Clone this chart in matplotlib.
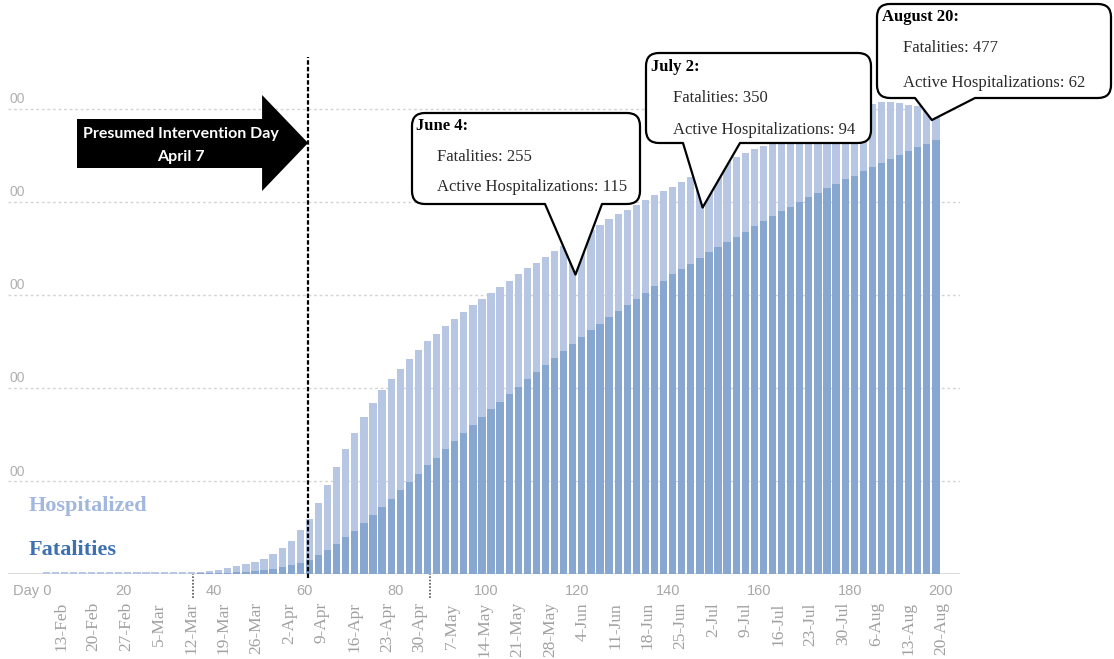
import numpy as np
import matplotlib.pyplot as plt
from matplotlib.path import Path
from matplotlib.patches import PathPatch, Polygon
from matplotlib import transforms

plt.rcParams['font.family'] = ['Liberation Sans', 'DejaVu Sans']

# --- Data: one bar every 2 days (day 1, 3, ..., 199) ---
fatalities = [
    0, 0, 0, 0, 0, 0, 0, 0, 0, 0,
    0, 0, 0, 0.2, 0.4, 0.6, 0.8, 0.9, 1.1, 1.2,
    1.5, 1.9, 2.2, 2.9, 4.0, 5.1, 6.2, 7.6, 9.7, 12.2,
    15.8, 20.5, 26.3, 32.6, 39.8, 47.0, 55.2, 63.8, 72.1, 81.4,
    90.7, 99.0, 108.3, 117.3, 125.5, 134.7, 143.3, 152.2, 160.5, 169.1,
    177.3, 185.5, 193.8, 201.3, 209.5, 217.0, 224.9, 232.4, 240.0, 247.5,
    254.6, 262.2, 269.0, 276.1, 282.6, 289.7, 296.2, 302.6, 309.4, 315.5,
    322.3, 327.5, 333.9, 339.3, 345.8, 351.1, 356.5, 362.2, 368.0, 373.7,
    379.1, 384.5, 389.8, 394.5, 400.2, 405.7, 409.7, 414.7, 419.3, 424.7,
    428.3, 433.3, 437.6, 442.3, 446.2, 450.5, 454.4, 459.1, 462.7, 466.6,
]
hospitalized = [
    0, 2.2, 2.2, 2.2, 2.2, 2.2, 2.2, 2.2, 2.2, 2.2,
    2.2, 2.2, 2.2, 2.1, 2.0, 1.8, 1.6, 1.6, 1.9, 2.8,
    3.6, 5.0, 6.5, 7.9, 9.3, 11.8, 16.1, 21.1, 26.2, 35.1,
    44.1, 56.2, 69.7, 82.8, 94.9, 105.2, 113.9, 119.9, 125.6, 128.5,
    129.9, 132.7, 132.7, 133.0, 133.1, 132.1, 130.7, 129.3, 128.5, 127.1,
    125.4, 123.6, 121.7, 121.0, 119.3, 117.8, 116.4, 114.7, 112.5, 111.0,
    109.4, 107.7, 106.3, 105.3, 104.2, 101.4, 100.9, 99.5, 97.8, 96.0,
    93.8, 94.1, 92.6, 91.7, 89.2, 87.9, 87.0, 86.5, 84.3, 82.9,
    81.4, 80.0, 78.7, 78.0, 76.3, 74.8, 74.8, 73.8, 73.2, 71.3,
    70.7, 68.7, 67.4, 65.4, 61.0, 56.0, 50.0, 44.0, 38.0, 31.2,
]
days = np.arange(len(fatalities)) * 2 + 1

day_ticks = [0, 20, 40, 60, 80, 100, 120, 140, 160, 180, 200]
day_tick_labels = ['Day 0', '20', '40', '60', '80', '100', '120', '140', '160', '180', '200']
date_labels = ['13-Feb', '20-Feb', '27-Feb', '5-Mar', '12-Mar', '19-Mar', '26-Mar',
               '2-Apr', '9-Apr', '16-Apr', '23-Apr', '30-Apr', '7-May', '14-May',
               '21-May', '28-May', '4-Jun', '11-Jun', '18-Jun', '25-Jun', '2-Jul',
               '9-Jul', '16-Jul', '23-Jul', '30-Jul', '6-Aug', '13-Aug', '20-Aug']
grid_values = [100, 200, 300, 400, 500]
grid_labels = ['00', '00', '00', '00', '00']

intervention_day = 60.7
marker_days = [35.3, 87.6]

callout_titles = ['June 4:', 'July 2:', 'August 20:']
callout_fatalities = [255, 350, 477]
callout_hospital = [115, 94, 62]
callout_tip_day = [119.6, 147.6, 198.1]
callout_tip_value = [322, 394, 488]

# --- Style ---
W, H = 1114, 659
COR_CLARA = '#b7c7e3'
COR_ESCURA = '#87a7d0'
SERIF = 'Liberation Serif'


def fx(x):
    return x / W


def fy(y):
    return 1 - y / H


def rounded_callout(x0, y0, x1, y1, r, b0, b1, tip):
    """Rounded box (pixel coords, y down) with a pointer on the bottom edge."""
    verts = [(x0 + r, y0), (x1 - r, y0), (x1, y0), (x1, y0 + r),
             (x1, y1 - r), (x1, y1), (x1 - r, y1),
             (b1, y1), tip, (b0, y1),
             (x0 + r, y1), (x0, y1), (x0, y1 - r),
             (x0, y0 + r), (x0, y0), (x0 + r, y0), (x0 + r, y0)]
    codes = [Path.MOVETO, Path.LINETO, Path.CURVE3, Path.CURVE3,
             Path.LINETO, Path.CURVE3, Path.CURVE3,
             Path.LINETO, Path.LINETO, Path.LINETO,
             Path.LINETO, Path.CURVE3, Path.CURVE3,
             Path.LINETO, Path.CURVE3, Path.CURVE3, Path.CLOSEPOLY]
    verts = [(fx(x), fy(y)) for x, y in verts]
    return Path(verts, codes)


# --- Figure and axes ---
fig = plt.figure(figsize=(W / 100, H / 100), dpi=100)
ax = fig.add_axes([fx(8), fy(574.4), (960 - 8) / W, (574.4 - 57) / H])
ax.set_xlim(-5.4, 204.3)
ax.set_ylim(0, 555.7)
for s in ax.spines.values():
    s.set_visible(False)

ax.bar(days, fatalities, width=1.6, color=COR_ESCURA, zorder=2)
ax.bar(days, hospitalized, width=1.6, bottom=fatalities, color=COR_CLARA, zorder=2)

ax.set_yticks(grid_values)
ax.set_yticklabels([])
ax.tick_params(axis='y', length=0)
ax.grid(axis='y', linestyle=(0, (2, 2)), color='#d4d4d4', linewidth=1, zorder=0)
ax.axhline(0, color='#d6d6d6', linewidth=1.2, zorder=1)

lbl_tr = transforms.offset_copy(ax.get_yaxis_transform(), fig=fig, y=7, units='points')
for v, t in zip(grid_values, grid_labels):
    ax.text(0.002, v, t, transform=lbl_tr, ha='left', va='center',
            fontsize=10, color='#b0b0b0')

ax.set_xticks(day_ticks, day_tick_labels)
ax.tick_params(axis='x', length=0, pad=7, labelsize=10.5, labelcolor='#a8a8a8')

# date labels on a second x axis
ax2 = ax.twiny()
ax2.set_xlim(-1.626, 27.585)
ax2.set_xticks(range(len(date_labels)))
ax2.set_xticklabels(date_labels, rotation=90, fontfamily=SERIF, fontsize=12.5, color='#a0a0a0')
ax2.xaxis.set_ticks_position('bottom')
ax2.xaxis.set_label_position('bottom')
ax2.tick_params(axis='x', length=0, pad=20)
for s in ax2.spines.values():
    s.set_visible(False)

# intervention line and small markers
ax.vlines(intervention_day, -4, 555.7, colors='black', linestyles=(0, (2, 1)),
          linewidth=1.6, clip_on=False, zorder=4)
ax.vlines(marker_days, -25, 0, colors='#555555', linestyles=(0, (1, 1)),
          linewidth=1.2, clip_on=False, zorder=4)

# --- Legend text ---
fig.text(fx(29), fy(506), 'Hospitalized', fontfamily=SERIF, fontweight='bold',
         fontsize=16, color='#a2b7de', ha='left', va='center')
fig.text(fx(29), fy(550), 'Fatalities', fontfamily=SERIF, fontweight='bold',
         fontsize=16, color='#3d70b2', ha='left', va='center')

# --- Intervention arrow ---
tip_x = ax.transData.transform((intervention_day, 0))[0]
seta = [(77, 119), (tip_x - 46, 119), (tip_x - 46, 95), (tip_x, 143),
        (tip_x - 46, 191), (tip_x - 46, 168), (77, 168)]
fig.add_artist(Polygon([(fx(x), fy(y)) for x, y in seta], closed=True,
                       transform=fig.transFigure, facecolor='black',
                       edgecolor='none', zorder=5))
fig.text(fx(181), fy(134), 'Presumed Intervention Day', fontfamily='Lato',
         fontweight='bold', fontsize=11.5, color='white', ha='center',
         va='center', zorder=6)
fig.text(fx(181), fy(157), 'April 7', fontfamily='Lato', fontweight='bold',
         fontsize=11.5, color='white', ha='center', va='center', zorder=6)

# --- Callouts ---
boxes = [(412, 113, 640, 204, 545, 602),
         (646, 53, 871, 143, 683, 740),
         (877, 4, 1111, 98, 915, 975)]
text_pos = [((416, 126), (437, 157), (437, 187)),
            ((651, 67), (673, 98), (673, 130)),
            ((882, 17), (903, 48), (903, 83))]

for i, (x0, y0, x1, y1, b0, b1) in enumerate(boxes):
    d = ax.transData.transform((callout_tip_day[i], callout_tip_value[i]))
    tip = (d[0], H - d[1])
    path = rounded_callout(x0, y0, x1, y1, 13, b0, b1, tip)
    fig.add_artist(PathPatch(path, transform=fig.transFigure, facecolor='white',
                             edgecolor='black', linewidth=1.6, joinstyle='round',
                             zorder=5))
    (tx, ty), (l1x, l1y), (l2x, l2y) = text_pos[i]
    fig.text(fx(tx), fy(ty), callout_titles[i], fontfamily=SERIF, fontweight='bold',
             fontsize=12, color='black', ha='left', va='center', zorder=6)
    fig.text(fx(l1x), fy(l1y), f'Fatalities: {callout_fatalities[i]}', fontfamily=SERIF,
             fontsize=12, color='#2a2a2a', ha='left', va='center', zorder=6)
    fig.text(fx(l2x), fy(l2y), f'Active Hospitalizations: {callout_hospital[i]}',
             fontfamily=SERIF, fontsize=12, color='#2a2a2a', ha='left',
             va='center', zorder=6)

fig.savefig('out.png', dpi=100)
